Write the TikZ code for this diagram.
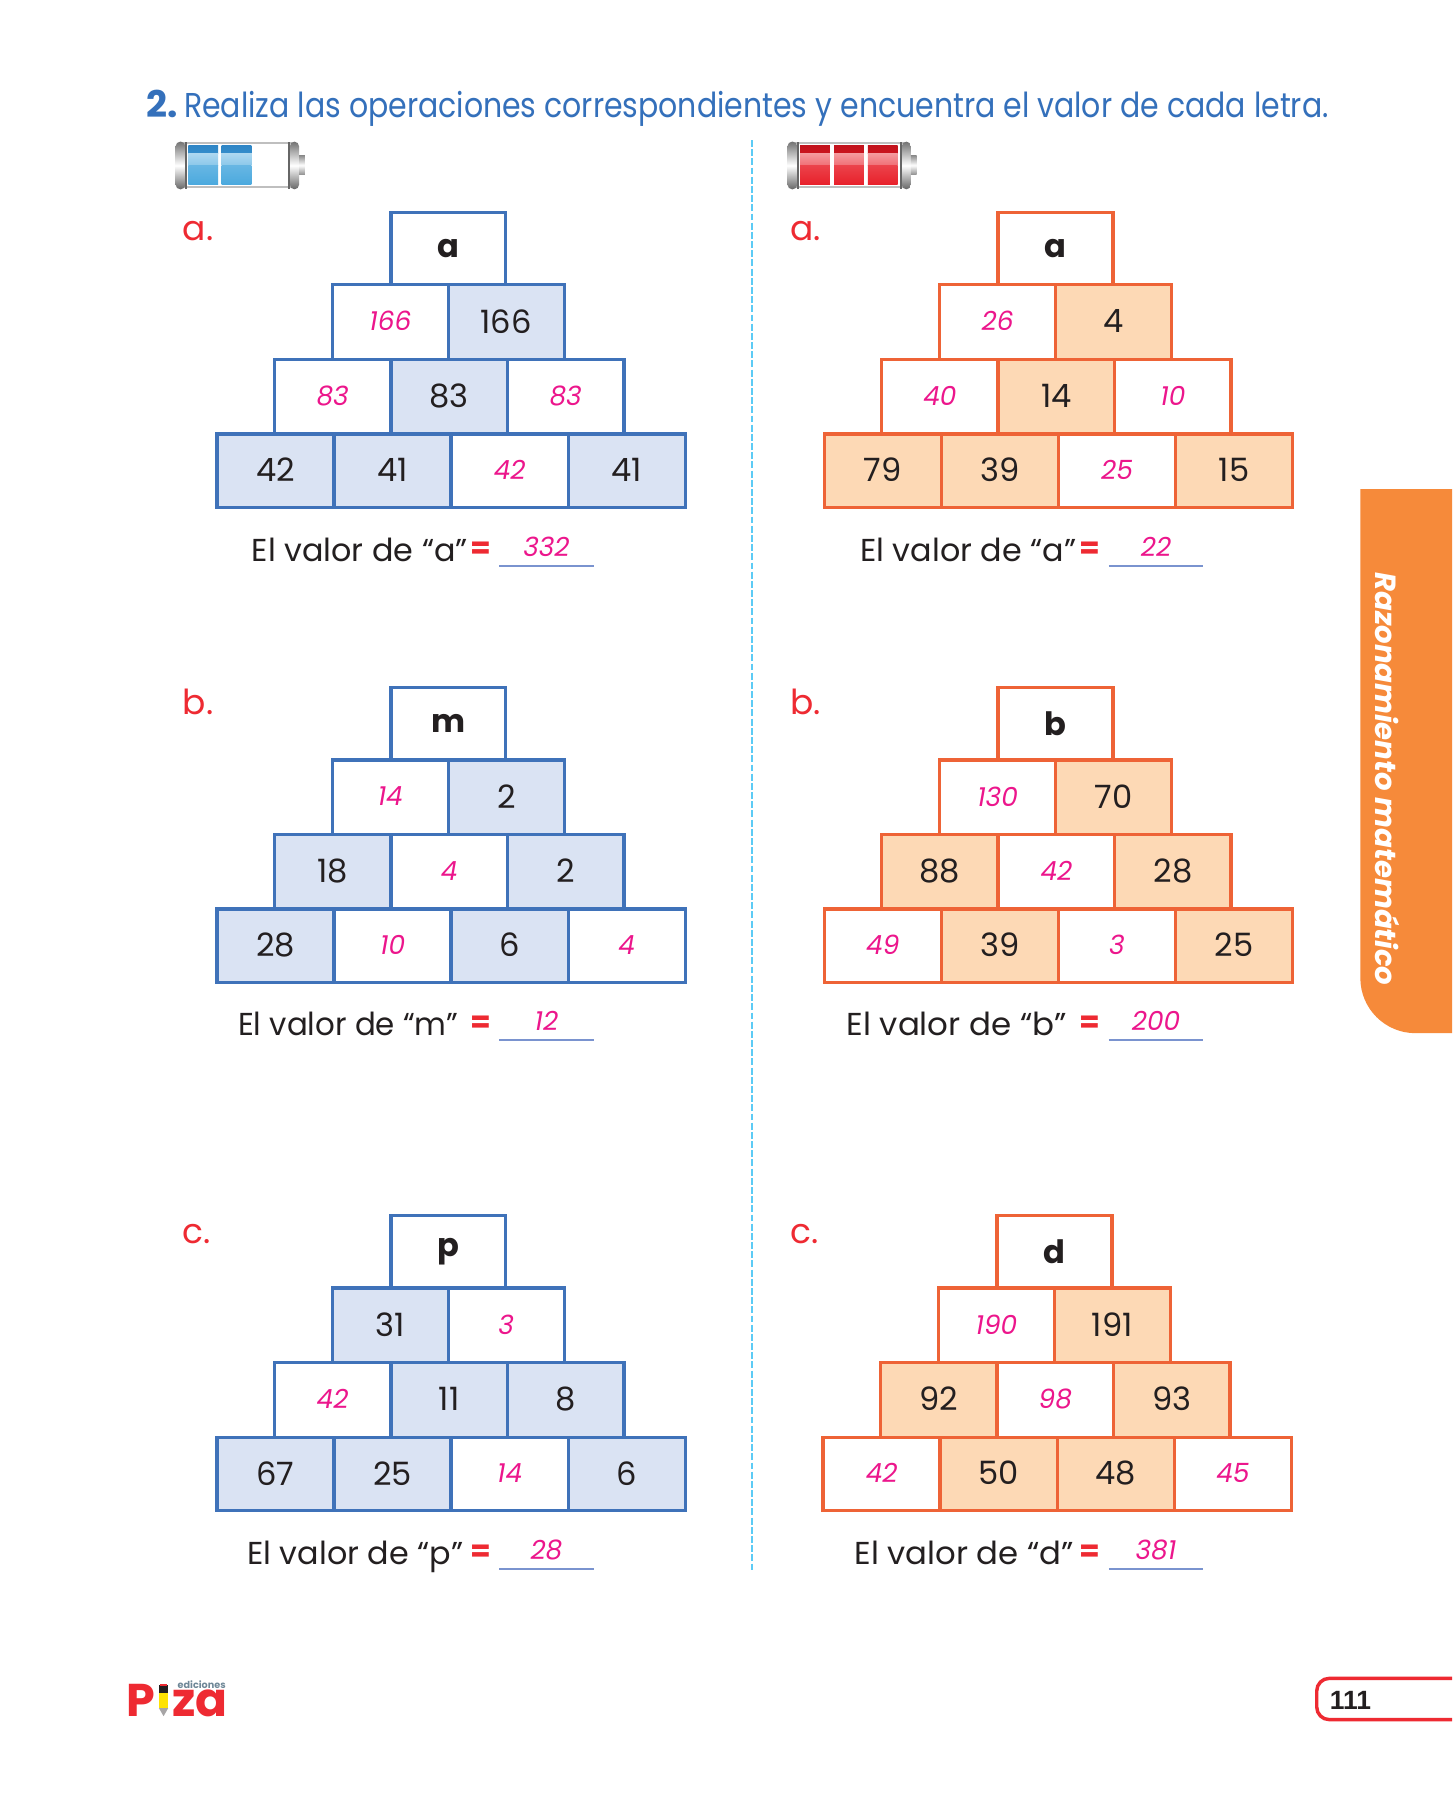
\documentclass[tikz,border=0pt]{standalone}
\usepackage{fontspec}
\setmainfont{Poppins}
\newfontfamily\arialf{Liberation Sans}
\definecolor{bstroke}{HTML}{3F72B9}
\definecolor{bfill}{HTML}{DAE3F3}
\definecolor{ostroke}{HTML}{EE6336}
\definecolor{ofill}{HTML}{FDD9B5}
\definecolor{ans}{HTML}{EC168C}
\definecolor{lab}{HTML}{EE2A32}
\definecolor{titleb}{HTML}{3470BB}
\definecolor{dline}{HTML}{5CCBF5}
\definecolor{tab}{HTML}{F68A3A}
\definecolor{uline}{HTML}{7A93CF}
\definecolor{ink}{HTML}{231F20}
\definecolor{edgrey}{HTML}{6E8797}
\newcommand\fs[1]{\fontsize{#1}{#1}\selectfont}
\newcommand\up[1]{\raisebox{0.7pt}{#1}}
\tikzset{
  cellbase/.style={inner sep=0pt,outer sep=0pt,line width=1.5pt,text=ink,font=\fs{14}},
  Lg/.style={cellbase,draw=bstroke,fill=bfill},
  La/.style={cellbase,draw=bstroke,fill=white,text=ans,font=\fs{11.5}\itshape},
  Lt/.style={cellbase,draw=bstroke,fill=white,font=\fs{14}\bfseries},
  Rg/.style={cellbase,draw=ostroke,fill=ofill},
  Ra/.style={cellbase,draw=ostroke,fill=white,text=ans,font=\fs{11.5}\itshape},
  Rt/.style={cellbase,draw=ostroke,fill=white,font=\fs{14}\bfseries},
  partlabel/.style={text=lab,font=\fs{15},anchor=base west,inner sep=0pt},
  valtext/.style={text=ink,font=\fs{13.8},anchor=base west,inner sep=0pt},
  eqsign/.style={text=lab,font=\fs{13}\bfseries,inner sep=0pt},
  anstext/.style={text=ans,font=\fs{11.5}\itshape,inner sep=0pt},
  ansline/.style={draw=uline,line width=1pt},
}
% name, x0, x1, y0, y1, style, text
\newcommand\cellbox[7]{%
  \node[#6,minimum width={((#3)-(#2))*0.5pt},minimum height={((#5)-(#4))*0.5pt}] (#1)
    at ({((#2)+(#3))/2},{((#4)+(#5))/2}) {#7};}
% prefix, dx, ytop, side L/R, letter, row2, row3, row4
\newcommand\pyramid[8]{%
  \cellbox{#1top}{340.5+#2}{440.5+#2}{#3+1}{#3+64}{#4t}{#5}
  \foreach \k/\t [count=\i] in {#6}{%
    \cellbox{#1rb\i}{289.5+101*(\i-1)+#2}{289.5+101*\i+#2}{#3+64}{#3+129}{#4\k}{\up{\t}}}
  \foreach \k/\t [count=\i] in {#7}{%
    \cellbox{#1rc\i}{239+101.5*(\i-1)+#2}{239+101.5*\i+#2}{#3+129}{#3+194}{#4\k}{\up{\t}}}
  \foreach \k/\t [count=\i] in {#8}{%
    \cellbox{#1rd\i}{189+102*(\i-1)+#2}{189+102*\i+#2}{#3+194}{#3+258}{#4\k}{\up{\t}}}
}
% x, y top, cell offsets, colours: battery
\newcommand\battery[5]{%
  \draw[line width=0.8pt,draw=black!25,fill=white] (#1+6,#2+1.5) rectangle (#1+103,#2+39.5);
  \shade[top color=black!55,bottom color=black!60,middle color=white,rounded corners=2pt] (#1,#2) rectangle (#1+8.5,#2+41.5);
  \fill[black!60] (#1+8.5,#2) rectangle (#1+10,#2+41.5);
  \shade[top color=black!55,bottom color=black!60,middle color=white,rounded corners=2pt] (#1+99.5,#2) rectangle (#1+107.5,#2+41.5);
  \fill[black!60] (#1+98,#2) rectangle (#1+99.5,#2+41.5);
  \shade[top color=black!45,bottom color=black!45,middle color=white] (#1+107.5,#2+12) rectangle (#1+112.5,#2+29);
  \foreach \cx in {#3}{%
    \shade[top color=#4,bottom color=#4!80!#5] (#1+\cx,#2+3.5) rectangle (#1+\cx+26,#2+10);
    \shade[top color=#5!45!white,bottom color=#5!65!white] (#1+\cx,#2+10) rectangle (#1+\cx+26,#2+21);
    \shade[top color=#5!85!white,bottom color=#5] (#1+\cx,#2+21) rectangle (#1+\cx+26,#2+37.5);
  }
}
\begin{document}
\begin{tikzpicture}[x=0.5pt,y=-0.5pt]
\useasboundingbox (0,0) rectangle (1265,1568);
\fill[white] (0,0) rectangle (1265,1568);
% title
\node[anchor=base west,inner sep=0pt,text=titleb,font=\fs{16}\bfseries] (num) at (127,102) {2.};
\node[anchor=base west,inner sep=0pt,text=titleb,font=\fs{15}] (title) at (160,102)
  {\resizebox{498.5pt}{\height}{Realiza las operaciones correspondientes y encuentra el valor de cada letra.}};
% divider
\coordinate (dtop) at (655,122);
\coordinate (dbot) at (655,1370);
\draw[dline,line width=1.1pt,dash pattern=on 3pt off 1pt] (dtop) -- (dbot);
% batteries
\definecolor{bluetop}{HTML}{2F86C6}\definecolor{bluebase}{HTML}{4BA9DE}
\definecolor{redtop}{HTML}{C3121C}\definecolor{redbase}{HTML}{E8202A}
\battery{153}{123.4}{11,40}{bluetop}{bluebase}
\battery{686}{123.4}{11,40.5,70}{redtop}{redbase}
% tab
\fill[tab] (1265,426) -- (1185,426) -- (1185,852) arc[start angle=180,end angle=90,radius=48] -- (1265,900) -- cycle;
\node[rotate=-90,text=white,font=\fs{12.7}\bfseries\itshape,inner sep=0pt] (tabtext) at (1209,678.5) {Razonamiento matemático};
% labels
\foreach \n/\x/\y/\t in {pa1/159/209.5/a., pb1/159/622.5/b., pc1/159/1083/c., pa2/688/209.5/a., pb2/688/622.5/b., pc2/688/1083/c.}
  \node[partlabel] (\n) at (\x,\y) {\t};
% pyramids
\pyramid{la}{0}{184}{L}{a}{a/166,g/166}{a/83,g/83,a/83}{g/42,g/41,a/42,g/41}
\pyramid{lb}{0}{598}{L}{m}{a/14,g/2}{g/18,a/4,g/2}{g/28,a/10,g/6,a/4}
\pyramid{lc}{0}{1058}{L}{p}{g/31,a/3}{a/42,g/11,g/8}{g/67,g/25,a/14,g/6}
\pyramid{ra}{529}{184}{R}{a}{a/26,g/4}{a/40,g/14,a/10}{g/79,g/39,a/25,g/15}
\pyramid{rb}{529}{598}{R}{b}{a/130,g/70}{g/88,a/42,g/28}{a/49,g/39,a/3,g/25}
\pyramid{rc}{528}{1058}{R}{d}{a/190,g/191}{g/92,a/98,g/93}{a/42,g/50,g/48,a/45}
% values
\foreach \n/\x/\y/\vt/\ex/\ax/\av/\tw in {
  va1/219/489/{El valor de “a”}/419/476/332/94,
  vb1/207/902/{El valor de “m”}/419/476/12/96,
  vc1/215/1363/{El valor de “p”}/419/476/28/94,
  va2/749/489/{El valor de “a”}/949/1007/22/94,
  vb2/737/902/{El valor de “b”}/949/1007/200/96,
  vc2/744/1363/{El valor de “d”}/949/1007/381/95.5}{
  \node[valtext] (\n) at (\x,\y) {\resizebox{\tw pt}{\height}{\vt}};
  \node[eqsign] (\n eq) at (\ex,\y-10) {=};
  \node[anstext] (\n ans) at (\ax,\y-13) {\av};
  \coordinate (\n ul) at (\ax-41,\y+4);
  \coordinate (\n ur) at (\ax+41,\y+4);
  \draw[ansline] (\n ul) -- (\n ur);
}
% page number
\draw[lab,line width=1.5pt] (1265,1462) -- (1158,1462) arc[start angle=270,end angle=180,radius=11] -- (1147,1487) arc[start angle=180,end angle=90,radius=11] -- (1265,1498);
\node[anchor=base west,inner sep=0pt,text=ink,font=\arialf\fs{11.5}\bfseries] (pg) at (1158,1489) {111};
% logo
\node[anchor=base west,inner sep=0pt,text=lab,font=\fs{20}\bfseries] (logoP) at (110,1495) {P};
\node[anchor=base west,inner sep=0pt,text=lab,font=\fs{20.5}\bfseries] (logoza) at (149.5,1495) {za};
\node[anchor=base east,inner sep=0pt,text=edgrey,font=\fs{4.2}\bfseries] (logoed) at (197,1470.5) {ediciones};
\fill[yellow!85!orange] (138.5,1475) rectangle (146.5,1488);
\fill[ink] (138.5,1468) rectangle (146.5,1475);
\fill[lab] (139.5,1466.5) rectangle (145.5,1469);
\fill[ink!40] (138.5,1488) -- (146.5,1488) -- (142.5,1495) -- cycle;
\end{tikzpicture}
\end{document}
